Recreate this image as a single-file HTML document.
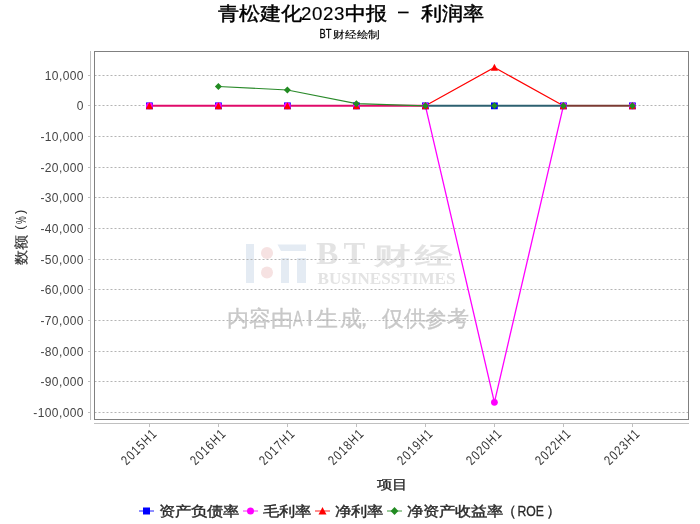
<!DOCTYPE html><html><head><meta charset="utf-8"><style>html,body{margin:0;padding:0;background:#fff;overflow:hidden}svg{display:block;will-change:transform;font-family:"Liberation Sans",sans-serif}</style></head><body>
<svg width="700" height="524" viewBox="0 0 700 524">
<rect width="700" height="524" fill="#fff"/>
<text transform="translate(217.5,20) scale(1,0.9)" font-size="20.6" fill="#000" stroke="#000" stroke-width="0.5" >青松建化</text>
<text transform="translate(301,19.9) scale(1,1)" font-size="18.7" fill="#000" stroke="#000" stroke-width="0.15" letter-spacing="0.6">2023</text>
<text transform="translate(345,20) scale(1,0.9)" font-size="20.6" fill="#000" stroke="#000" stroke-width="0.5" >中报</text>
<rect x="398" y="11.6" width="10.6" height="1.7" fill="#000"/>
<text transform="translate(420.5,20) scale(1,0.9)" font-size="20.6" fill="#000" stroke="#000" stroke-width="0.5" >利润率</text>
<text transform="translate(319.6,37.9) scale(0.78,1)" font-size="12" fill="#000" stroke="#000" stroke-width="0.25" >BT</text>
<text transform="translate(333,38.2) scale(1.0,0.86)" font-size="12.2" fill="#000" stroke="#000" stroke-width="0.2" >财经绘制</text>
<rect x="246" y="244" width="8" height="39" fill="#e4ebf3"/>
<circle cx="267" cy="253" r="6" fill="#f6e2e2"/>
<circle cx="267" cy="272.5" r="6" fill="#f6e2e2"/>
<path d="M277.5 244.5 L306 244.5 L306 251 L281 251 Z" fill="#e4ebf3"/>
<rect x="281" y="258" width="8" height="25" fill="#e4ebf3"/>
<rect x="297" y="258" width="9" height="25" fill="#e4ebf3"/>
<text transform="translate(316.3,264) scale(1.07,1)" font-size="31" fill="#e3e3e3" style="font-family:&quot;Liberation Serif&quot;,serif" font-weight="bold">B</text>
<text transform="translate(343.6,264) scale(1.05,1)" font-size="31" fill="#e3e3e3" style="font-family:&quot;Liberation Serif&quot;,serif" font-weight="bold">T</text>
<text transform="translate(374,263.5) scale(1.52,1)" font-size="24" fill="#e3e3e3" style="font-family:&quot;Liberation Serif&quot;,serif" font-weight="bold">财</text>
<text transform="translate(414.5,263.5) scale(1.56,1)" font-size="24" fill="#e3e3e3" style="font-family:&quot;Liberation Serif&quot;,serif" font-weight="bold">经</text>
<text x="317.5" y="284" style="font-family:&quot;Liberation Serif&quot;,serif" font-weight="bold" font-size="17" fill="#e3e3e3" textLength="138" lengthAdjust="spacingAndGlyphs">BUSINESSTIMES</text>
<text transform="translate(226.5,326) scale(1,1)" font-size="21.5" fill="#c8c8c8" stroke="#c8c8c8" stroke-width="0.35" >内</text>
<text transform="translate(249,326) scale(1,1)" font-size="21.5" fill="#c8c8c8" stroke="#c8c8c8" stroke-width="0.35" >容</text>
<text transform="translate(270.5,326) scale(1,1)" font-size="21.5" fill="#c8c8c8" stroke="#c8c8c8" stroke-width="0.35" >由</text>
<text transform="translate(316,326) scale(1,1)" font-size="21.5" fill="#c8c8c8" stroke="#c8c8c8" stroke-width="0.35" >生</text>
<text transform="translate(339.5,326) scale(1,1)" font-size="21.5" fill="#c8c8c8" stroke="#c8c8c8" stroke-width="0.35" >成</text>
<text transform="translate(353,326) scale(1,1)" font-size="21.5" fill="#c8c8c8" stroke="#c8c8c8" stroke-width="0.35" >，</text>
<text transform="translate(382,326) scale(1,1)" font-size="21.5" fill="#c8c8c8" stroke="#c8c8c8" stroke-width="0.35" >仅</text>
<text transform="translate(404,326) scale(1,1)" font-size="21.5" fill="#c8c8c8" stroke="#c8c8c8" stroke-width="0.35" >供</text>
<text transform="translate(424.5,326) scale(1,1)" font-size="21.5" fill="#c8c8c8" stroke="#c8c8c8" stroke-width="0.35" >参</text>
<text transform="translate(447,326) scale(1,1)" font-size="21.5" fill="#c8c8c8" stroke="#c8c8c8" stroke-width="0.35" >考</text>
<text x="293" y="326" font-size="22" fill="#c8c8c8" stroke="#c8c8c8" stroke-width="0.4" textLength="9.7" lengthAdjust="spacingAndGlyphs">A</text>
<rect x="308.5" y="310" width="2.6" height="15.8" fill="#c8c8c8"/>
<line x1="94.5" y1="75.5" x2="688" y2="75.5" stroke="#b4b4b4" stroke-width="1" stroke-dasharray="2,2"/>
<line x1="94.5" y1="105.5" x2="688" y2="105.5" stroke="#b4b4b4" stroke-width="1" stroke-dasharray="2,2"/>
<line x1="94.5" y1="136.5" x2="688" y2="136.5" stroke="#b4b4b4" stroke-width="1" stroke-dasharray="2,2"/>
<line x1="94.5" y1="167.5" x2="688" y2="167.5" stroke="#b4b4b4" stroke-width="1" stroke-dasharray="2,2"/>
<line x1="94.5" y1="197.5" x2="688" y2="197.5" stroke="#b4b4b4" stroke-width="1" stroke-dasharray="2,2"/>
<line x1="94.5" y1="228.5" x2="688" y2="228.5" stroke="#b4b4b4" stroke-width="1" stroke-dasharray="2,2"/>
<line x1="94.5" y1="259.5" x2="688" y2="259.5" stroke="#b4b4b4" stroke-width="1" stroke-dasharray="2,2"/>
<line x1="94.5" y1="289.5" x2="688" y2="289.5" stroke="#b4b4b4" stroke-width="1" stroke-dasharray="2,2"/>
<line x1="94.5" y1="320.5" x2="688" y2="320.5" stroke="#b4b4b4" stroke-width="1" stroke-dasharray="2,2"/>
<line x1="94.5" y1="351.5" x2="688" y2="351.5" stroke="#b4b4b4" stroke-width="1" stroke-dasharray="2,2"/>
<line x1="94.5" y1="381.5" x2="688" y2="381.5" stroke="#b4b4b4" stroke-width="1" stroke-dasharray="2,2"/>
<line x1="94.5" y1="412.5" x2="688" y2="412.5" stroke="#b4b4b4" stroke-width="1" stroke-dasharray="2,2"/>
<rect x="94.5" y="51.5" width="594" height="368" fill="none" stroke="#808080" stroke-width="1"/>
<line x1="90.5" y1="51" x2="90.5" y2="420" stroke="#c0c0c0"/>
<line x1="94" y1="423.5" x2="689" y2="423.5" stroke="#c0c0c0"/>
<line x1="88" y1="75.5" x2="90" y2="75.5" stroke="#c0c0c0"/>
<text x="83.9" y="80" text-anchor="end" font-size="12" letter-spacing="0.4" fill="#444">10,000</text>
<line x1="88" y1="105.5" x2="90" y2="105.5" stroke="#c0c0c0"/>
<text x="83.9" y="110" text-anchor="end" font-size="12" letter-spacing="0.4" fill="#444">0</text>
<line x1="88" y1="136.5" x2="90" y2="136.5" stroke="#c0c0c0"/>
<text x="83.9" y="141" text-anchor="end" font-size="12" letter-spacing="0.4" fill="#444">-10,000</text>
<line x1="88" y1="167.5" x2="90" y2="167.5" stroke="#c0c0c0"/>
<text x="83.9" y="172" text-anchor="end" font-size="12" letter-spacing="0.4" fill="#444">-20,000</text>
<line x1="88" y1="197.5" x2="90" y2="197.5" stroke="#c0c0c0"/>
<text x="83.9" y="202" text-anchor="end" font-size="12" letter-spacing="0.4" fill="#444">-30,000</text>
<line x1="88" y1="228.5" x2="90" y2="228.5" stroke="#c0c0c0"/>
<text x="83.9" y="233" text-anchor="end" font-size="12" letter-spacing="0.4" fill="#444">-40,000</text>
<line x1="88" y1="259.5" x2="90" y2="259.5" stroke="#c0c0c0"/>
<text x="83.9" y="264" text-anchor="end" font-size="12" letter-spacing="0.4" fill="#444">-50,000</text>
<line x1="88" y1="289.5" x2="90" y2="289.5" stroke="#c0c0c0"/>
<text x="83.9" y="294" text-anchor="end" font-size="12" letter-spacing="0.4" fill="#444">-60,000</text>
<line x1="88" y1="320.5" x2="90" y2="320.5" stroke="#c0c0c0"/>
<text x="83.9" y="325" text-anchor="end" font-size="12" letter-spacing="0.4" fill="#444">-70,000</text>
<line x1="88" y1="351.5" x2="90" y2="351.5" stroke="#c0c0c0"/>
<text x="83.9" y="356" text-anchor="end" font-size="12" letter-spacing="0.4" fill="#444">-80,000</text>
<line x1="88" y1="381.5" x2="90" y2="381.5" stroke="#c0c0c0"/>
<text x="83.9" y="386" text-anchor="end" font-size="12" letter-spacing="0.4" fill="#444">-90,000</text>
<line x1="88" y1="412.5" x2="90" y2="412.5" stroke="#c0c0c0"/>
<text x="83.9" y="417" text-anchor="end" font-size="12" letter-spacing="0.4" fill="#444">-100,000</text>
<line x1="149.5" y1="423" x2="149.5" y2="427" stroke="#c0c0c0"/>
<text transform="translate(158.1,434.3) rotate(-45) scale(0.8,1)" text-anchor="end" font-size="13.5" letter-spacing="1.4" fill="#333">2015H1</text>
<line x1="218.5" y1="423" x2="218.5" y2="427" stroke="#c0c0c0"/>
<text transform="translate(227.1,434.3) rotate(-45) scale(0.8,1)" text-anchor="end" font-size="13.5" letter-spacing="1.4" fill="#333">2016H1</text>
<line x1="287.5" y1="423" x2="287.5" y2="427" stroke="#c0c0c0"/>
<text transform="translate(296.1,434.3) rotate(-45) scale(0.8,1)" text-anchor="end" font-size="13.5" letter-spacing="1.4" fill="#333">2017H1</text>
<line x1="356.5" y1="423" x2="356.5" y2="427" stroke="#c0c0c0"/>
<text transform="translate(365.1,434.3) rotate(-45) scale(0.8,1)" text-anchor="end" font-size="13.5" letter-spacing="1.4" fill="#333">2018H1</text>
<line x1="425.5" y1="423" x2="425.5" y2="427" stroke="#c0c0c0"/>
<text transform="translate(434.1,434.3) rotate(-45) scale(0.8,1)" text-anchor="end" font-size="13.5" letter-spacing="1.4" fill="#333">2019H1</text>
<line x1="494.5" y1="423" x2="494.5" y2="427" stroke="#c0c0c0"/>
<text transform="translate(503.1,434.3) rotate(-45) scale(0.8,1)" text-anchor="end" font-size="13.5" letter-spacing="1.4" fill="#333">2020H1</text>
<line x1="563.5" y1="423" x2="563.5" y2="427" stroke="#c0c0c0"/>
<text transform="translate(572.1,434.3) rotate(-45) scale(0.8,1)" text-anchor="end" font-size="13.5" letter-spacing="1.4" fill="#333">2022H1</text>
<line x1="632.5" y1="423" x2="632.5" y2="427" stroke="#c0c0c0"/>
<text transform="translate(641.1,434.3) rotate(-45) scale(0.8,1)" text-anchor="end" font-size="13.5" letter-spacing="1.4" fill="#333">2023H1</text>
<text transform="translate(26.3,264.6) rotate(-90) scale(1,0.93)" font-size="15" fill="#333" stroke="#333" stroke-width="0.2">数额</text>
<text transform="translate(24.2,229.7) rotate(-90)" font-size="13" fill="#333">(</text>
<text transform="translate(24.2,214) rotate(-90)" font-size="13" fill="#333">)</text>
<text transform="translate(26,224) rotate(-90) scale(0.62,1)" font-size="14" fill="#333">%</text>
<text transform="translate(392,489.3) scale(1.02,0.86)" font-size="15" fill="#2a2a2a" stroke="#2a2a2a" stroke-width="0.35" text-anchor="middle">项目</text>
<line x1="149.4" y1="105.85" x2="425.4" y2="105.85" stroke="#e00a6a" stroke-width="2"/>
<line x1="425.4" y1="105.85" x2="563.4" y2="105.85" stroke="#2c6070" stroke-width="2"/>
<line x1="563.4" y1="105.85" x2="632.4" y2="105.85" stroke="#7a3a32" stroke-width="2"/>
<polyline points="425.4,105.85 494.4,402.3487 563.4,105.85" fill="none" stroke="#ff00ff" stroke-width="1.3"/>
<polyline points="425.4,105.85 494.4,67.4011 563.4,105.85" fill="none" stroke="#ff0000" stroke-width="1.15"/>
<polyline points="218.4,86.4496 287.4,90.05122 356.4,103.64985999999999 425.4,105.85" fill="none" stroke="#2a8a2a" stroke-width="1.1"/>
<rect x="146.00" y="102.45" width="6.8" height="6.8" fill="#0000ff"/>
<rect x="215.00" y="102.45" width="6.8" height="6.8" fill="#0000ff"/>
<rect x="284.00" y="102.45" width="6.8" height="6.8" fill="#0000ff"/>
<rect x="353.00" y="102.45" width="6.8" height="6.8" fill="#0000ff"/>
<rect x="422.00" y="102.45" width="6.8" height="6.8" fill="#0000ff"/>
<rect x="491.00" y="102.45" width="6.8" height="6.8" fill="#0000ff"/>
<rect x="560.00" y="102.45" width="6.8" height="6.8" fill="#0000ff"/>
<rect x="629.00" y="102.45" width="6.8" height="6.8" fill="#0000ff"/>
<circle cx="149.40" cy="105.85" r="3.4" fill="#ff00ff"/>
<circle cx="218.40" cy="105.85" r="3.4" fill="#ff00ff"/>
<circle cx="287.40" cy="105.85" r="3.4" fill="#ff00ff"/>
<circle cx="356.40" cy="105.85" r="3.4" fill="#ff00ff"/>
<circle cx="425.40" cy="105.85" r="3.4" fill="#ff00ff"/>
<circle cx="494.40" cy="402.35" r="3.4" fill="#ff00ff"/>
<circle cx="563.40" cy="105.85" r="3.4" fill="#ff00ff"/>
<circle cx="632.40" cy="105.85" r="3.4" fill="#ff00ff"/>
<path d="M149.40 102.25 L153.00 109.25 L145.80 109.25 Z" fill="#ff0000"/>
<path d="M218.40 102.25 L222.00 109.25 L214.80 109.25 Z" fill="#ff0000"/>
<path d="M287.40 102.25 L291.00 109.25 L283.80 109.25 Z" fill="#ff0000"/>
<path d="M356.40 102.25 L360.00 109.25 L352.80 109.25 Z" fill="#ff0000"/>
<path d="M425.40 102.25 L429.00 109.25 L421.80 109.25 Z" fill="#ff0000"/>
<path d="M494.40 63.80 L498.00 70.80 L490.80 70.80 Z" fill="#ff0000"/>
<path d="M563.40 102.25 L567.00 109.25 L559.80 109.25 Z" fill="#ff0000"/>
<path d="M632.40 102.25 L636.00 109.25 L628.80 109.25 Z" fill="#ff0000"/>
<path d="M218.40 82.95 L221.90 86.45 L218.40 89.95 L214.90 86.45 Z" fill="#228b22"/>
<path d="M287.40 86.55 L290.90 90.05 L287.40 93.55 L283.90 90.05 Z" fill="#228b22"/>
<path d="M356.40 100.15 L359.90 103.65 L356.40 107.15 L352.90 103.65 Z" fill="#228b22"/>
<path d="M425.40 102.35 L428.90 105.85 L425.40 109.35 L421.90 105.85 Z" fill="#228b22"/>
<path d="M494.40 102.35 L497.90 105.85 L494.40 109.35 L490.90 105.85 Z" fill="#228b22"/>
<path d="M563.40 102.35 L566.90 105.85 L563.40 109.35 L559.90 105.85 Z" fill="#228b22"/>
<path d="M632.40 102.35 L635.90 105.85 L632.40 109.35 L628.90 105.85 Z" fill="#228b22"/>
<line x1="139" y1="511" x2="154" y2="511" stroke="#0000ff" stroke-width="1.1" opacity="0.8"/>
<rect x="143.0" y="507.5" width="7" height="7" fill="#0000ff"/>
<text transform="translate(158.5,516.4) scale(1,0.86)" font-size="16" fill="#2a2a2a" stroke="#2a2a2a" stroke-width="0.45" >资产负债率</text>
<line x1="243" y1="511" x2="258" y2="511" stroke="#ff00ff" stroke-width="1.1" opacity="0.8"/>
<circle cx="250.5" cy="511" r="3.5" fill="#ff00ff"/>
<text transform="translate(262.5,516.4) scale(1,0.86)" font-size="16" fill="#2a2a2a" stroke="#2a2a2a" stroke-width="0.45" >毛利率</text>
<line x1="315" y1="511" x2="330" y2="511" stroke="#ff0000" stroke-width="1.1" opacity="0.8"/>
<path d="M322.5 507.1 L326.5 514.6 L318.5 514.6 Z" fill="#ff0000"/>
<text transform="translate(334.5,516.4) scale(1,0.86)" font-size="16" fill="#2a2a2a" stroke="#2a2a2a" stroke-width="0.45" >净利率</text>
<line x1="387" y1="511" x2="402" y2="511" stroke="#228b22" stroke-width="1.1" opacity="0.8"/>
<path d="M394.5 507.1 L398.4 511 L394.5 514.9 L390.6 511 Z" fill="#228b22"/>
<text transform="translate(406.5,516.4) scale(1,0.86)" font-size="16" fill="#2a2a2a" stroke="#2a2a2a" stroke-width="0.45" >净资产收益率</text>
<text transform="translate(500.5,516.4) scale(1,0.95)" font-size="16" fill="#2a2a2a" stroke="#2a2a2a" stroke-width="0.3" >（</text>
<text x="517.5" y="515.8" font-size="14" fill="#2a2a2a" stroke="#2a2a2a" stroke-width="0.3" textLength="26.5" lengthAdjust="spacingAndGlyphs">ROE</text>
<text transform="translate(545.5,516.4) scale(1,0.95)" font-size="16" fill="#2a2a2a" stroke="#2a2a2a" stroke-width="0.3" >）</text>
</svg></body></html>
